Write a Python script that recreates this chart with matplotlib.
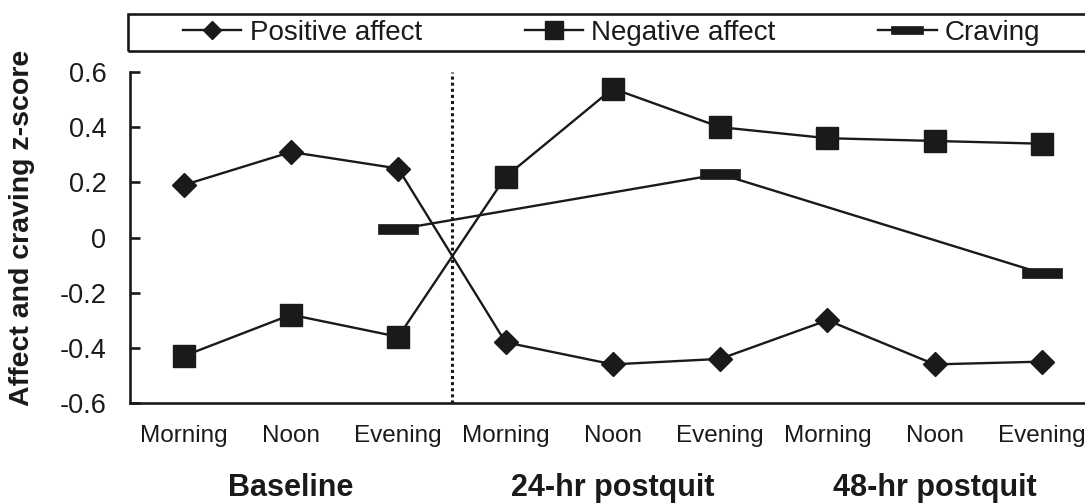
import matplotlib
matplotlib.use("Agg")
import matplotlib.pyplot as plt
from matplotlib.path import Path
from matplotlib.patches import Rectangle
import matplotlib.transforms as mtransforms

plt.rcParams['font.family'] = ['Liberation Sans', 'DejaVu Sans']

# ---- data ----
times = ["Morning", "Noon", "Evening"] * 3
periods = ["Baseline", "24-hr postquit", "48-hr postquit"]
positive_affect = [0.19, 0.31, 0.25, -0.38, -0.46, -0.44, -0.30, -0.46, -0.45]
negative_affect = [-0.43, -0.28, -0.36, 0.22, 0.54, 0.40, 0.36, 0.35, 0.34]
craving = [None, None, 0.03, None, None, 0.23, None, None, -0.13]
yticks = [-0.6, -0.4, -0.2, 0, 0.2, 0.4, 0.6]
ytick_labels = ["-0.6", "-0.4", "-0.2", "0", "0.2", "0.4", "0.6"]

W, H = 1085, 503
INK = '#1a1a1a'
fig = plt.figure(figsize=(W / 100, H / 100), dpi=100)
ax_left = 130 / W
ax_bottom = (H - 403) / H
ax_top = (H - 72) / H
ax_width = 9 * 107.3 / W
ax = fig.add_axes([ax_left, ax_bottom, ax_width, ax_top - ax_bottom])

x = list(range(len(times)))
bar_marker = Path([(-2.2, -0.5), (2.2, -0.5), (2.2, 0.5), (-2.2, 0.5), (-2.2, -0.5)],
                  [Path.MOVETO, Path.LINETO, Path.LINETO, Path.LINETO, Path.CLOSEPOLY])

lw = 1.7
ax.plot(x, positive_affect, color=INK, lw=lw, marker='D', ms=12, mfc=INK,
        mec=INK, label='Positive affect', zorder=3)
ax.plot(x, negative_affect, color=INK, lw=lw, marker='s', ms=16, mfc=INK,
        mec=INK, label='Negative affect', zorder=3)
cx = [i for i, v in enumerate(craving) if v is not None]
cy = [v for v in craving if v is not None]
ax.plot(cx, cy, color=INK, lw=lw, marker=bar_marker, ms=29, mfc=INK,
        mec=INK, mew=0.5, label='Craving', zorder=3)

ax.axvline(2.5, color=INK, lw=2.2, dashes=(1.0, 1.0), zorder=2)

ax.set_xlim(-0.5, 8.5)
ax.set_ylim(-0.6, 0.6)
ax.set_yticks(yticks)
ax.set_yticklabels(ytick_labels)
ax.set_xticks(x)
ax.set_xticklabels(times)
for s in ['top', 'right']:
    ax.spines[s].set_visible(False)
for s in ['left', 'bottom']:
    ax.spines[s].set_linewidth(1.9)
    ax.spines[s].set_color(INK)
ax.tick_params(axis='y', direction='in', length=7, width=1.9, color=INK,
               labelsize=19.5, pad=17, labelcolor=INK)
ax.tick_params(axis='x', length=0, labelsize=17.5, pad=16, labelcolor=INK)

fig.text(22 / W, (H - 228) / H, "Affect and craving z-score", rotation=90,
         ha='center', va='center', fontsize=20.5, fontweight='bold', color=INK)

trans = mtransforms.blended_transform_factory(ax.transData, fig.transFigure)
for i, p in enumerate(periods):
    ax.text(1 + 3 * i, (H - 488) / H, p, transform=trans, ha='center', va='center',
            fontsize=22, fontweight='bold', color=INK)

# legend box
fig.patches.append(Rectangle((128 / W, (H - 51) / H), 1.1, 37 / H, transform=fig.transFigure,
                             fill=False, lw=1.9, edgecolor=INK))
handles, labels = ax.get_legend_handles_labels()
leg = fig.legend(handles, labels, loc='center left', bbox_to_anchor=(183 / W, (H - 33) / H),
                 ncol=3, frameon=False, fontsize=20, handlelength=2.1, handletextpad=0.3,
                 columnspacing=3.7, markerscale=0.8, borderpad=0, borderaxespad=0)
for t in leg.get_texts():
    t.set_color(INK)

fig.savefig("out.png", dpi=100)
